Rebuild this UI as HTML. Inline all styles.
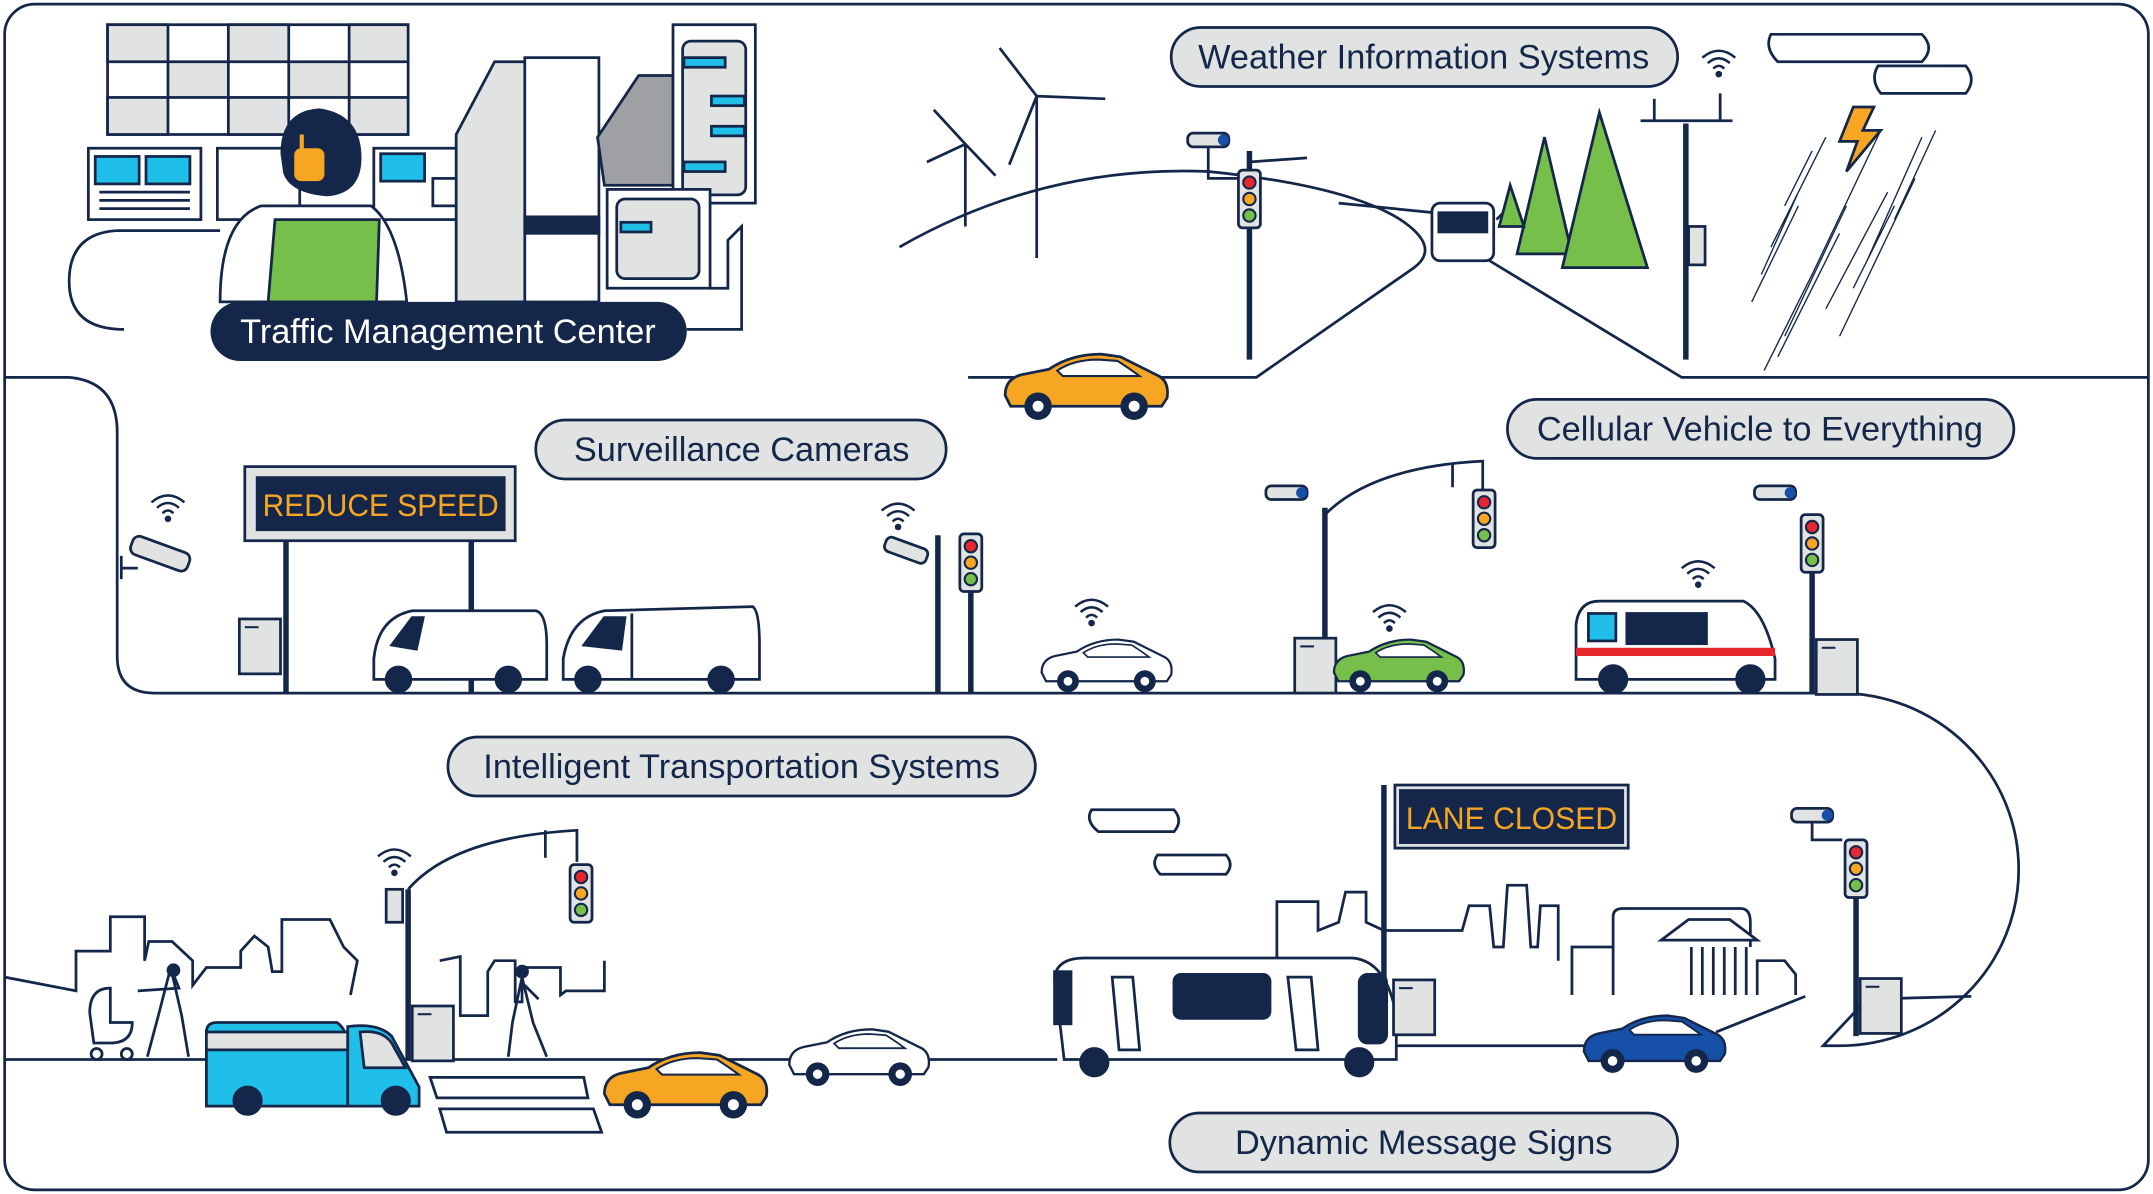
<!DOCTYPE html>
<html><head><meta charset="utf-8"><style>
html,body{margin:0;padding:0;background:#fff;}
svg{display:block;}
text{font-family:"Liberation Sans",sans-serif;}
</style></head><body>
<svg width="2153" height="1194" viewBox="0 0 1568 870" xmlns="http://www.w3.org/2000/svg">
<defs>
<g id="tl"><rect x="0" y="0" width="16" height="42" rx="3" fill="#e1e3e3" stroke="#14274a" stroke-width="2"/><circle cx="8" cy="9" r="4.5" fill="#e8262d" stroke="#14274a" stroke-width="1.5"/><circle cx="8" cy="21" r="4.5" fill="#f6a623" stroke="#14274a" stroke-width="1.5"/><circle cx="8" cy="33" r="4.5" fill="#75bf4a" stroke="#14274a" stroke-width="1.5"/></g>
<g id="car"><path d="M2,30 Q2,18 14,15 L34,11 Q50,0 72,0 L86,2 Q100,9 112,15 Q122,19 120,32 L116,38 L6,38 Z" stroke="#14274a" stroke-width="2"/><path d="M40,12 Q52,4 70,4 L84,5 Q92,10 100,16 L44,16 Z" fill="#fff" stroke="#14274a" stroke-width="1.5"/><circle cx="26" cy="38" r="10" fill="#14274a"/><circle cx="26" cy="38" r="4" fill="#fff"/><circle cx="96" cy="38" r="10" fill="#14274a"/><circle cx="96" cy="38" r="4" fill="#fff"/></g>
<g id="cab"><rect x="0" y="0" width="30" height="40" fill="#e1e3e3" stroke="#14274a" stroke-width="2"/><line x1="4" y1="6" x2="14" y2="6" stroke="#14274a" stroke-width="1.5"/></g>
<g id="wifi" fill="none" stroke="#14274a" stroke-width="1.8"><path d="M-12,-6 Q0,-16 12,-6"/><path d="M-8,-2 Q0,-9 8,-2"/><path d="M-4,2 Q0,-2 4,2"/><circle cx="0" cy="6" r="1.5" fill="#14274a"/></g>
<g id="cam"><rect x="-10" y="-5" width="30" height="10" rx="4" fill="#e1e3e3" stroke="#14274a" stroke-width="2"/><circle cx="16" cy="0" r="4" fill="#1750a8"/></g>
</defs>
<g fill="none" stroke="#14274a" stroke-width="2">
<rect x="3" y="3" width="1562" height="864" rx="22"/>
<path d="M3,275 L50,275 Q85,278 85,315 L85,478 Q85,505 112,505 L1340,505 A130,128 0 0 1 1340,762 L1328,762 L1360,728 L1436,726"/>
<path d="M3,772 L770,772"/><path d="M1015,762 L1160,762"/><path d="M1250,752 L1315,726"/>
<path d="M3,712 L55,722 L55,693 L80,693 L80,668 L105,668 L105,700 L108,686 L125,686 L140,700 L140,718 L150,705 L175,705 L175,693 L185,682 L195,690 L198,708 L205,708 L205,670 L240,670 L250,690 L260,700 L255,725"/>
<path d="M320,700 L335,697 L335,740 L355,740 L355,708 L360,700 L375,700 L375,730 L380,730 L380,705 L408,705 L408,725 L412,722 L440,722 L440,700"/>
<path d="M930,720 L930,657 L960,657 L960,678 L975,672 L980,650 L995,650 L995,672 L1008,678 L1065,678 L1070,660 L1085,660 L1088,690 L1095,690 L1098,645 L1112,645 L1115,690 L1120,690 L1122,660 L1135,660 L1135,700"/>
<path d="M1145,725 L1145,690 L1175,690 L1175,668 Q1175,662 1182,662 L1268,662 Q1275,662 1275,672 L1275,690"/><path d="M1175,725 L1175,690"/><path d="M1280,725 L1280,700 L1300,700 L1308,710 L1308,725"/>
<path d="M655,180 Q760,120 880,125 Q980,135 1020,160 Q1050,180 1030,195 L915,275 L705,275"/>
<path d="M975,148 L1045,155"/><path d="M1085,190 L1225,275 L1565,275"/><path d="M1090,160 L1100,150"/>
</g>
<g stroke="#14274a" stroke-width="2">
<path d="M90,240 Q50,240 50,205 Q50,170 85,168 L160,168" fill="none"/>
<rect x="78" y="18" width="219" height="80" fill="#fff"/>
<g fill="#e1e3e3"><rect x="78" y="18" width="44" height="27"/><rect x="166" y="18" width="44" height="27"/><rect x="254" y="18" width="43" height="27"/><rect x="122" y="45" width="44" height="26"/><rect x="210" y="45" width="44" height="26"/><rect x="78" y="71" width="44" height="27"/><rect x="166" y="71" width="44" height="27"/><rect x="254" y="71" width="43" height="27"/></g>
<rect x="64" y="108" width="82" height="52" fill="#fff"/><rect x="69" y="114" width="32" height="20" fill="#1fbfea"/><rect x="106" y="114" width="32" height="20" fill="#1fbfea"/>
<path d="M72,140 L138,140 M72,146 L138,146 M72,152 L138,152" />
<rect x="158" y="108" width="60" height="52" fill="#fff"/>
<rect x="272" y="108" width="82" height="52" fill="#fff"/><rect x="277" y="112" width="32" height="20" fill="#1fbfea"/><rect x="315" y="130" width="33" height="20" fill="#fff"/>
<path d="M160,220 Q160,160 190,150 L270,150 Q290,165 296,220 Z" fill="#fff"/>
<path d="M200,160 L276,160 L274,220 L195,220 Z" fill="#75bf4a"/>
<path d="M205,112 Q205,82 232,80 Q262,84 262,115 Q262,140 238,142 Q212,140 207,126 Z" fill="#14274a"/>
<rect x="218" y="98" width="3" height="12" fill="#f6a623" stroke="none"/>
<rect x="214" y="108" width="22" height="24" rx="5" fill="#f6a623" stroke="none"/>
<path d="M332,98 L360,45 L435,45 L435,220 L332,220 Z" fill="#e1e3e3"/><rect x="382" y="42" width="54" height="178" fill="#fff"/><rect x="382" y="158" width="54" height="12" fill="#14274a"/>
<path d="M435,100 L465,55 L490,55 L490,135 L440,135 Z" fill="#9fa0a3"/>
<rect x="490" y="18" width="60" height="130" fill="#fff"/><rect x="497" y="30" width="46" height="112" rx="6" fill="#e1e3e3"/>
<g fill="#1fbfea"><rect x="498" y="42" width="30" height="7"/><rect x="518" y="70" width="24" height="7"/><rect x="518" y="92" width="24" height="7"/><rect x="498" y="118" width="30" height="7"/></g>
<rect x="442" y="138" width="75" height="72" fill="#fff"/><rect x="449" y="145" width="60" height="58" rx="6" fill="#e1e3e3"/><rect x="452" y="162" width="22" height="7" fill="#1fbfea"/>
<path d="M517,210 L530,210 L530,175 L540,165 L540,240 L500,240" fill="none"/>
</g>
<rect x="153" y="220" width="347" height="43" rx="21.5" fill="#14274a"/>
<text x="326" y="250" font-size="25" fill="#fff" text-anchor="middle">Traffic Management Center</text>
<g stroke="#14274a" stroke-width="2" fill="none">
<path d="M755,188 L755,70 M755,70 L728,35 M755,70 L805,72 M755,70 L735,120"/>
<path d="M703,165 L703,105 M703,105 L680,80 M703,105 L725,128 M703,105 L675,118"/>
<line x1="910" y1="110" x2="910" y2="262" stroke-width="4"/><line x1="1228" y1="90" x2="1228" y2="262" stroke-width="4"/>
<path d="M1195,88 L1262,88 M1253,88 L1253,68 M1205,88 L1205,72"/>
<path d="M1290,25 L1400,25 Q1410,35 1400,45 L1295,45 Q1285,35 1290,25 Z" fill="#fff"/><path d="M1368,48 L1432,48 Q1440,58 1432,68 L1370,68 Q1362,58 1368,48 Z" fill="#fff"/>
<path d="M1285,270 L1320,200 M1300,245 L1345,150 M1320,200 L1370,95 M1276,220 L1310,150 M1340,245 L1395,130 M1290,180 L1330,100 M1360,190 L1400,100 M1295,260 L1330,190 M1310,230 L1340,170 M1330,225 L1375,140 M1283,200 L1310,140 M1300,150 L1320,110 M1380,160 L1410,95 M1350,210 L1380,150" stroke-width="1"/>
<path d="M1125,100 L1145,185 L1105,185 Z" fill="#75bf4a"/><path d="M1165,82 L1200,195 L1138,195 Z" fill="#75bf4a"/><path d="M1100,135 L1110,165 L1092,165 Z" fill="#75bf4a"/>
<rect x="1043" y="148" width="45" height="42" rx="6" fill="#fff"/><rect x="1048" y="155" width="35" height="14" fill="#14274a"/>
<rect x="1230" y="165" width="12" height="28" fill="#e1e3e3"/>
<path d="M1350,78 L1340,103 L1353,103 L1345,125 L1370,95 L1357,95 L1365,78 Z" fill="#f6a623"/>
<path d="M910,118 L952,115 M880,102 L880,130 L905,130"/>
</g>
<use href="#tl" x="902" y="124"/><use href="#cam" x="875" y="102"/>
<use href="#wifi" x="1252" y="48"/>
<use href="#car" x="730" y="258" fill="#f6a623"/>
<rect x="853" y="20" width="369" height="43" rx="21.5" fill="#e1e3e3" stroke="#14274a" stroke-width="2"/>
<text x="1037" y="50" font-size="25" fill="#14274a" text-anchor="middle">Weather Information Systems</text>
<g stroke="#14274a" stroke-width="2">
<rect x="178" y="340" width="197" height="54" fill="#e1e3e3"/><rect x="187" y="348" width="180" height="38" fill="#14274a"/>
<line x1="208" y1="394" x2="208" y2="505" stroke-width="4"/><line x1="343" y1="394" x2="343" y2="505" stroke-width="4"/>
<path d="M272,480 Q275,450 300,445 L390,445 Q398,447 398,470 L398,495 L272,495 Z" fill="#fff"/><path d="M285,470 L300,450 L308,450 L303,473 Z" fill="#14274a"/>
<path d="M410,480 Q415,450 440,445 L548,442 Q553,445 553,470 L553,495 L410,495 Z" fill="#fff"/><path d="M425,470 L440,450 L455,450 L452,473 Z" fill="#14274a"/><line x1="460" y1="447" x2="460" y2="495"/>
<circle cx="290" cy="495" r="9" fill="#14274a"/><circle cx="370" cy="495" r="9" fill="#14274a"/><circle cx="428" cy="495" r="9" fill="#14274a"/><circle cx="525" cy="495" r="9" fill="#14274a"/>
<line x1="683" y1="390" x2="683" y2="505" stroke-width="4"/><line x1="707" y1="430" x2="707" y2="505" stroke-width="4"/>
<line x1="965" y1="370" x2="965" y2="505" stroke-width="4"/><path d="M965,375 Q1000,340 1080,336 L1080,360 M1058,338 L1058,355" fill="none"/>
<line x1="1320" y1="380" x2="1320" y2="505" stroke-width="4"/>
<path d="M1148,455 Q1150,438 1165,438 L1270,438 Q1285,445 1293,480 L1293,495 L1148,495 Z" fill="#fff"/><rect x="1185" y="447" width="58" height="22" fill="#14274a"/><rect x="1148" y="472" width="145" height="6" fill="#e8262d" stroke="none"/><rect x="1157" y="447" width="20" height="20" fill="#1fbfea"/>
<circle cx="1175" cy="495" r="10" fill="#14274a"/><circle cx="1275" cy="495" r="10" fill="#14274a"/>
<path d="M88,405 L88,422 M88,414 L100,414" fill="none"/>
</g>
<g transform="translate(96,395) rotate(20)"><rect x="0" y="-6" width="44" height="14" rx="5" fill="#e1e3e3" stroke="#14274a" stroke-width="2"/></g>
<g transform="translate(645,395) rotate(20)"><rect x="0" y="-5" width="32" height="11" rx="4" fill="#e1e3e3" stroke="#14274a" stroke-width="2"/></g>
<use href="#wifi" x="122" y="372"/><use href="#wifi" x="654" y="378"/><use href="#wifi" x="795" y="448"/><use href="#wifi" x="1012" y="452"/><use href="#wifi" x="1237" y="420"/>
<use href="#cab" x="174" y="451"/><use href="#cab" x="943" y="465"/><use href="#cab" x="1323" y="466"/>
<use href="#tl" x="699" y="389"/><use href="#tl" x="1073" y="357"/><use href="#tl" x="1312" y="375"/>
<use href="#cam" x="932" y="359"/><use href="#cam" x="1288" y="359"/>
<g transform="translate(757,466) scale(0.8)"><use href="#car" fill="#fff"/></g>
<g transform="translate(970,466) scale(0.8)"><use href="#car" fill="#75bf4a"/></g>
<text x="191" y="376" font-size="23" fill="#f6a623" font-family="Liberation Mono" textLength="172" lengthAdjust="spacingAndGlyphs">REDUCE SPEED</text>
<rect x="390" y="306" width="299" height="43" rx="21.5" fill="#e1e3e3" stroke="#14274a" stroke-width="2"/>
<text x="540" y="336" font-size="25" fill="#14274a" text-anchor="middle">Surveillance Cameras</text>
<rect x="1098" y="291" width="369" height="43" rx="21.5" fill="#e1e3e3" stroke="#14274a" stroke-width="2"/>
<text x="1282" y="321" font-size="25" fill="#14274a" text-anchor="middle">Cellular Vehicle to Everything</text>
<g stroke="#14274a" stroke-width="2">
<line x1="297" y1="648" x2="297" y2="772" stroke-width="4"/><path d="M297,648 Q330,610 420,605 L420,628 M397,605 L397,625" fill="none"/>
<rect x="281" y="648" width="12" height="24" fill="#e1e3e3"/>
<path d="M150,752 Q150,745 158,745 L245,745 Q253,750 253,765 L253,806 L150,806 Z" fill="#1fbfea"/><path d="M150,752 L253,752 L253,765 L150,765 Z" fill="#e1e3e3"/>
<path d="M253,748 Q275,745 285,755 L305,792 L305,806 L253,806 Z" fill="#1fbfea"/>
<path d="M262,752 Q278,750 285,760 L295,778 L265,778 Z" fill="#e1e3e3"/>
<circle cx="180" cy="802" r="10" fill="#14274a"/><circle cx="288" cy="802" r="10" fill="#14274a"/>
<path d="M313,785 L425,785 L428,800 L318,800 Z M320,808 L432,808 L438,825 L325,825 Z" fill="#fff"/>
<path d="M768,712 Q770,698 790,698 L985,698 Q1010,700 1017,740 L1017,772 L775,772 Z" fill="#fff"/>
<rect x="855" y="710" width="70" height="32" rx="5" fill="#14274a"/><rect x="768" y="708" width="12" height="38" fill="#14274a"/><rect x="990" y="710" width="20" height="50" rx="6" fill="#14274a"/>
<path d="M810,712 L825,712 L830,765 L815,765 Z M938,712 L955,712 L960,765 L944,765 Z" fill="#fff"/>
<circle cx="797" cy="774" r="10" fill="#14274a"/><circle cx="990" cy="774" r="10" fill="#14274a"/>
<line x1="1008" y1="572" x2="1008" y2="755" stroke-width="4"/><line x1="1352" y1="650" x2="1352" y2="755" stroke-width="4"/>
<rect x="1016" y="572" width="170" height="46" fill="#e1e3e3"/><rect x="1020" y="576" width="162" height="38" fill="#14274a"/>
<path d="M795,590 L855,590 Q862,598 855,606 L800,606 Q790,598 795,590 Z M843,623 L893,623 Q899,630 893,637 L845,637 Q838,630 843,623 Z" fill="#fff"/>
<path d="M1320,600 L1320,612 L1342,612" fill="none"/>
<path d="M1210,685 L1230,670 L1260,670 L1280,685 Z" fill="#fff"/><path d="M1232,690 L1232,725 M1240,690 L1240,725 M1248,690 L1248,725 M1256,690 L1256,725 M1264,690 L1264,725 M1272,690 L1272,725" />
<path d="M124,705 L115,740 L107,770 M124,705 L132,740 L137,770 M124,705 L130,720 L100,722" fill="none"/><circle cx="126" cy="707" r="4" fill="#14274a"/>
<path d="M380,712 L373,745 L370,770 M380,712 L388,745 L398,770 M382,718 L392,728" fill="none"/><circle cx="380" cy="708" r="4" fill="#14274a"/>
<path d="M65,738 Q65,720 80,720 L80,745 L96,745 Q96,760 80,760 L68,760 Z" fill="#fff"/><circle cx="70" cy="768" r="4" fill="#fff"/><circle cx="92" cy="768" r="4" fill="#fff"/>
</g>
<use href="#cab" x="300" y="733"/><use href="#cab" x="1015" y="714"/><use href="#cab" x="1355" y="713"/>
<use href="#tl" x="415" y="630"/><use href="#tl" x="1344" y="612"/><use href="#cam" x="1315" y="594"/>
<use href="#wifi" x="287" y="630"/>
<use href="#car" x="438" y="767" fill="#f6a623"/>
<g transform="translate(573,750) scale(0.86)"><use href="#car" fill="#fff"/></g>
<g transform="translate(1152,740) scale(0.87)"><use href="#car" fill="#1750a8"/></g>
<text x="1024" y="604" font-size="23" fill="#f6a623" font-family="Liberation Mono" textLength="154" lengthAdjust="spacingAndGlyphs">LANE CLOSED</text>
<rect x="326" y="537" width="428" height="43" rx="21.5" fill="#e1e3e3" stroke="#14274a" stroke-width="2"/>
<text x="540" y="567" font-size="25" fill="#14274a" text-anchor="middle">Intelligent Transportation Systems</text>
<rect x="852" y="811" width="370" height="43" rx="21.5" fill="#e1e3e3" stroke="#14274a" stroke-width="2"/>
<text x="1037" y="841" font-size="25" fill="#14274a" text-anchor="middle">Dynamic Message Signs</text>
</svg>
</body></html>
